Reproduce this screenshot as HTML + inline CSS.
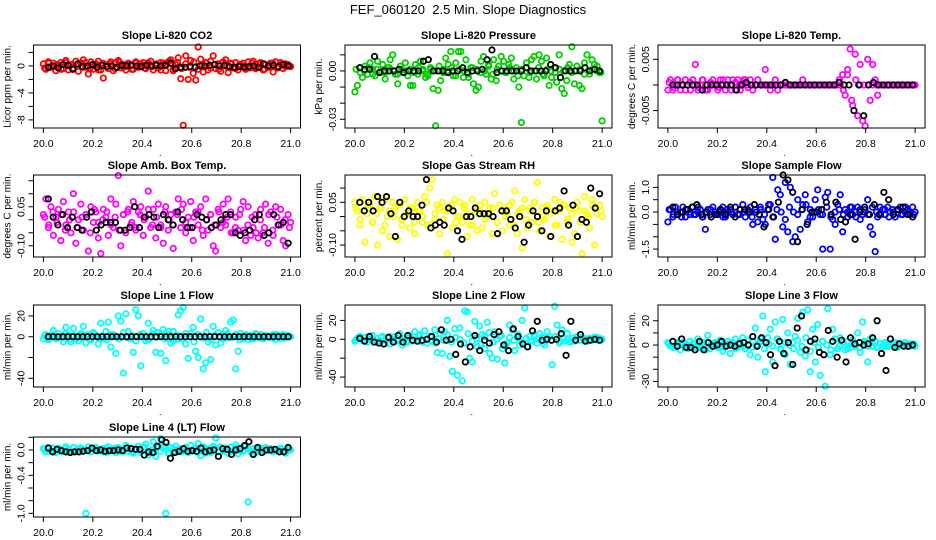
<!DOCTYPE html>
<html><head><meta charset="utf-8"><style>
body{margin:0;background:#fff;}
svg{display:block;font-family:"Liberation Sans",Arial,sans-serif;}
</style></head><body>
<svg id="chart" width="936" height="540" viewBox="0 0 936 540">
<text x="468" y="14" text-anchor="middle" font-size="13" style="white-space:pre">FEF_060120  2.5 Min. Slope Diagnostics</text>
</svg>
<script>
// ---- data (colored = all samples, band = extra dense samples, black = highlighted samples); x = time 20.0..21.0
const co2Col=[0.3,-0.5,0.6,-0.2,0.4,-0.7,0.1,0.5,-0.4,0.8,-0.6,0.2,-0.3,0.7,-0.8,0.4,0.9,-0.2,-1.2,0.6,-0.5,0.3,0.7,-0.6,-1.8,0.2,-0.4,0.6,-0.7,0.5,0.8,-0.3,0.2,-0.6,0.4,0.1,-0.5,0.6,-0.2,0.3,0.5,-0.4,0.2,0.7,-0.6,0.1,-0.3,0.5,0.4,-0.7,0.6,0.9,-0.5,0.2,1.2,-1.9,-8.8,1.5,-2.0,0.8,-1.1,-2.1,2.8,1.0,-0.9,0.5,-0.6,0.7,1.5,-0.4,0.3,-0.8,0.6,0.9,-1.0,0.4,-0.3,0.5,-0.6,0.2,0.4,-0.5,0.6,-0.3,0.7,-0.4,0.3,0.5,-0.6,0.2,-0.2,0.4,-0.9,0.6,-0.3,0.5,-0.4,0.3,0.2,-0.1];
const co2Band=[-0.3,0.4,-0.1,0.2,-0.5,0.5,0.0,-0.4,0.3,-0.2,0.5,-0.3,0.1,-0.6,0.4,-0.1,0.3,-0.4,0.6,-0.2,0.2,-0.5,0.4,0.0,-0.3,0.5,-0.1,0.3,-0.6,0.2,0.7,-0.7,0.5,-0.4,0.3,-0.2,0.6,-0.5,0.1,0.4,-0.3,0.2,-0.5,0.5,-0.1,0.3,-0.4,0.2,0.0,-0.3,0.4,-0.2,0.3,-0.5,0.1,0.4,-0.3,0.2,-0.1,0.0];
const co2Blk=[-0.2,0.0,-0.3,0.2,0.1,-0.5,0.3,-0.1,0.0,0.2,-0.2,0.1,-0.1,0.0,-0.2,0.1,0.0,0.1,0.0,-0.1,0.1,0.0,0.1,0.0,0.1,0.4,-0.4,-0.2,-0.2,-0.1,-0.2,0.0,0.0,0.1,0.2,0.0,0.1,-0.1,-0.2,-0.1,-0.2,-0.1,0.0,-0.2,0.3,0.0,0.1,-0.1,0.2,0.0];
const presCol=[-0.013,-0.009,0.002,-0.004,0.003,-0.002,0.005,0.001,-0.003,0.006,-0.001,0.004,-0.005,0.002,0.007,0.010,-0.002,-0.008,0.003,-0.001,0.005,-0.003,-0.009,-0.009,0.004,-0.002,0.006,0.001,-0.004,-0.003,0.002,-0.011,-0.034,-0.012,-0.006,0.001,0.008,0.004,0.012,-0.003,0.005,0.012,0.012,-0.004,0.007,-0.004,0.002,-0.008,-0.012,-0.010,0.006,0.009,-0.002,0.004,-0.005,0.007,-0.006,0.003,0.009,0.006,-0.001,0.004,0.008,-0.005,0.002,-0.010,-0.032,-0.003,0.005,-0.004,0.007,0.009,-0.005,0.010,0.006,-0.003,0.008,-0.009,-0.004,0.002,-0.007,0.010,-0.011,-0.014,-0.006,0.004,0.015,-0.008,0.003,-0.009,-0.011,0.005,0.010,-0.002,0.007,0.004,0.003,-0.001,-0.031];
const presBand=[0.001,-0.001,0.000,0.002,-0.002,0.001,0.000,-0.001,0.002,0.000,-0.002,0.001,0.000,0.001,-0.001,0.002,0.000,-0.002,0.001,0.000,0.003,-0.001,0.000,0.002,-0.003,0.001,0.000,-0.002,0.002,0.001,-0.001,0.000,0.003,-0.002,0.001,0.000,-0.001,0.002,0.000,-0.003,0.001,0.002,-0.001,0.000,0.002,-0.002,0.001,0.000,-0.001,0.001,0.000,0.002,-0.001,0.000,0.001,-0.002,0.000,0.001,0.000,-0.001];
const presBlk=[0.002,0.001,0.001,0.009,-0.001,0,0,0,0.001,-0.001,0,0,0,0.006,0.007,0,0,0,-0.001,0,0,0.002,-0.001,0,0,0.001,0.007,0.013,-0.001,0,0,0,0,0,0.002,0,0,0,0,0.004,0.002,-0.004,0,0,0,0,0.002,0,0.001,0];
const tempCol=[-0.001,0.001,-0.001,0,0.001,-0.001,0,0.001,0,-0.001,0.001,0.004,-0.001,0,0.001,-0.001,-0.001,0,0.001,0,-0.001,0.001,0,-0.001,0.001,0,0.001,-0.001,0.001,-0.001,0,0.001,0,0.001,-0.001,0,0.001,0,0,0.003,0,-0.001,0,0.001,-0.001,0,0,0,0,0,0,0,0,0,0.001,0,0,0,0,0,0,0,0,0,0,0,0,0,0,0,0.002,-0.002,0.003,0.007,-0.004,0.006,-0.006,0.004,-0.007,-0.008,0.005,-0.003,0.004,0.001,-0.002,0,0,0,0,0,0,0,0,0,0,0,0,0,0,0];
const tempBand=[0.0005,-0.0005,0.001,0,-0.001,0.0005,0,-0.0005,0.001,-0.001,0.0005,0,-0.0005,0.001,0,-0.001,0.0005,0,0.001,-0.0005,0,0,0,0,0,0,0,0,0,0,0,0,0,0,0,0,0,0,0,0,0,0.001,-0.001,0.002,-0.003,0.001,0,0,0,0,0,0,0,0,0,0,0,0,0,0];
const tempBlk=[0,0,0,0,0,0,-0.001,0,0,0,0,0,0,-0.001,0,0.0005,0,0,0,0,0,0,0,0.0005,0,0,0,0,0,0,0,0,0,0,0.0005,0,0,-0.005,0,-0.006,0,0.0005,0,0,0,0,0,0,0,0];
const ambCol=[0.02,0.08,-0.03,0.05,-0.06,0.01,0.04,-0.08,0.07,-0.02,0.03,-0.05,0.10,-0.09,0,0.06,-0.04,0.02,-0.12,0.05,-0.01,0.03,-0.07,-0.13,0.04,0.01,-0.06,0.08,-0.03,0.06,0.17,-0.10,0.02,-0.05,0.04,-0.02,0.07,-0.04,0.03,0.05,-0.06,0.01,0.11,-0.03,0.04,-0.07,0.06,-0.02,-0.09,0.05,-0.04,0.02,-0.11,0.03,0.08,-0.03,0.06,-0.05,0.01,0.07,-0.08,0.03,-0.02,0.05,-0.06,0.08,-0.04,0.02,-0.10,-0.12,0.04,-0.03,0.06,-0.02,0.08,0.03,-0.05,0.01,-0.04,0.04,0.07,-0.08,0.05,-0.06,-0.03,0.02,-0.07,0.04,-0.05,0.06,-0.09,0.03,-0.06,0.05,-0.02,0.04,-0.08,-0.10,0.02,-0.01];
const ambBand=[0.01,-0.02,0.03,-0.01,0.02,-0.04,0.00,0.03,-0.03,0.01,0.02,-0.05,0.04,-0.01,0.00,0.03,-0.02,0.01,-0.04,0.02,0.03,-0.01,-0.03,0.02,0.00,0.04,-0.02,0.01,-0.03,0.03,0.00,-0.02,0.02,0.04,-0.01,-0.03,0.01,0.03,-0.04,0.00,0.02,-0.02,0.03,-0.01,0.01,-0.05,-0.03,0.02,-0.04,-0.02,0.01,-0.05,0.00,-0.03,0.02,-0.04,0.01,-0.02,0.00,-0.03];
const ambBlk=[0.08,0.01,-0.02,0.02,-0.03,0.01,-0.03,-0.04,0.01,0.03,-0.04,-0.02,-0.01,-0.01,-0.01,-0.04,-0.04,-0.03,0.05,-0.03,0.01,0.02,0.01,-0.03,0.02,0,-0.02,0.03,0,-0.03,-0.03,0.02,0.01,0,-0.03,-0.02,0,0.02,0.02,-0.05,-0.06,-0.05,-0.04,0,0.02,-0.06,-0.05,0.02,-0.02,-0.01,-0.09];
const rhCol=[0.05,0.02,-0.03,0.06,-0.09,0.01,0.04,-0.02,0.07,-0.10,0.03,-0.05,0.06,0,-0.07,0.05,0.02,-0.08,0.04,-0.03,0.06,0.01,-0.04,0.03,-0.06,0.05,0.02,-0.02,0.07,-0.03,0.10,0.13,-0.01,0.04,-0.06,0.05,0.02,-0.13,0.03,-0.04,0.06,0,0.05,-0.02,0.04,-0.07,-0.03,0.06,0.01,-0.05,0.02,-0.04,0.05,0,0.03,-0.06,0.08,-0.02,0.04,-0.05,0.03,0.01,-0.03,0.05,0.09,-0.06,0.02,-0.11,0.06,-0.04,0.03,-0.02,0.05,0.12,-0.05,0.03,-0.01,0.04,-0.07,0.02,0.06,-0.03,0.05,-0.08,0.04,-0.02,0.03,-0.09,-0.06,0.05,0.02,-0.13,0.07,0.01,-0.04,0.06,-0.10,0.03,0.04,0];
const rhBand=[0.03,-0.01,0.02,0.04,-0.02,0.01,0.03,-0.03,0.02,0.00,0.04,-0.01,0.01,0.03,-0.02,0.02,0.00,0.05,-0.03,0.01,0.03,-0.01,0.02,0.04,-0.02,0.00,0.03,0.01,-0.03,0.02,0.04,-0.01,0.01,0.03,-0.02,0.02,0.00,0.04,-0.03,0.01,0.03,-0.01,0.02,0.05,-0.02,0.00,0.03,0.01,-0.03,0.02,0.04,-0.01,0.01,0.03,-0.02,0.02,0.00,0.04,0.01,0.02];
const rhBlk=[0.05,0.02,0.05,0.02,0.07,0.05,0.07,0.01,-0.07,0.05,0,0.02,0,0,0.04,0.13,-0.04,-0.03,-0.02,-0.03,0.03,0.02,-0.05,-0.08,0,0,0.03,0.01,0.01,0.01,0,-0.06,0.02,0.02,-0.01,-0.04,0,-0.09,-0.03,0.02,0,-0.05,0.02,-0.07,0.02,0.03,0.09,-0.03,0.04,-0.07,-0.01,-0.02,0.10,0.03,0.08];
const flowCol=[-0.4,0.1,-0.2,0.2,-0.1,0,0.2,-0.2,0.1,-0.1,0.2,-0.1,0,0.1,-0.2,-0.7,0.1,-0.1,0.2,0,-0.1,0.1,0.2,-0.2,0,0.1,-0.1,0.2,-0.1,0.1,0.3,-0.2,0,0.2,-0.5,0.1,-0.4,0.2,-0.3,-0.5,0.1,0.3,1.4,-1.1,0.9,0.7,-0.6,1.2,-0.8,1.0,-1.2,-1.0,0.5,-0.7,0.3,0.7,-0.4,0.1,-0.2,0.5,0.9,-0.1,-1.5,0.6,0.8,-1.5,-0.3,-0.5,0.3,0.7,-0.8,0.1,-0.2,0.2,-0.1,0,0.2,-0.3,-0.1,0.1,0.5,-0.6,-0.9,-1.6,-0.2,0.2,0.1,-0.1,0.2,0,0.1,-0.2,0.1,0.2,-0.1,0,0.1,-0.1,0.2,0];
const flowBand=[0.1,-0.1,0.0,-0.2,0.1,0.0,-0.1,0.2,-0.2,0.0,0.1,-0.1,0.0,-0.2,0.1,0.0,0.2,-0.1,0.0,0.1,-0.2,0.0,0.1,-0.1,0.3,-0.2,0.1,0.0,-0.3,0.2,0.0,-0.1,0.1,0.3,-0.2,0.0,0.1,-0.1,0.2,-0.2,0.0,0.1,-0.1,0.0,0.2,-0.2,0.1,0.0,-0.1,0.2,0.0,-0.1,0.1,-0.2,0.0,0.1,-0.1,0.2,0.0,-0.1];
const flowBlk=[0.2,-0.1,0,0.1,0.2,0.3,-0.1,0,-0.2,-0.1,0.1,-0.1,0.2,-0.2,0.1,0.1,0,0.3,-0.1,-0.6,0.1,-0.2,0.4,1.5,1.3,0.8,-1.2,0.1,-0.5,0,0,0.1,0.4,-0.1,0.4,-0.3,-0.4,-0.1,-1.1,0,0.2,-0.1,0.3,-0.1,0.8,0.5,-0.1,0.1,0.2,-0.1,-0.2];
const l1Col=[-2,2,-3,1,6,-2,3,-1,-5,9,2,-5,8,-2,-4,3,10,-6,2,-3,4,1,-7,13,-2,5,14,-10,2,-16,20,15,-35,22,5,-2,-15,26,20,-28,3,-4,13,-1,6,-15,4,-16,7,-23,2,-6,5,-3,21,25,28,-7,-21,3,9,-14,-20,17,-31,-25,-5,-22,10,-8,4,-6,2,6,-1,14,16,-31,-14,3,-2,2,-3,1,-2,3,-1,2,-2,1,0,-1,2,-3,1,0,2,-1,1,0];
const l1Band=[1,-2,2,-1,0,3,-3,1,-1,2,0,-2,3,-1,1,-3,2,0,-2,4,-1,1,-4,2,0,-3,3,-1,2,-2,5,-4,1,-2,3,0,-5,2,-1,4,-3,1,0,-2,3,-1,2,-3,1,0,-2,2,-1,1,0,-1,2,-2,1,0];
const l1Blk=[0,0,0,0,0,0,0,0,0,0,0,0,0,0,0,0,0,0,0,0,0,0,0,0,0,0,0,0,0,0,0,0,0,0,0,0,0,0,0,0,0,0,0,0,0,0,0,0,0,0];
const l2Col=[-2,1,3,-1,2,-3,0,4,-2,1,-4,3,-1,2,-5,0,3,-2,6,-6,1,-3,4,-2,8,-1,5,-3,9,-4,3,-2,10,-14,6,-15,8,20,-18,-34,11,-38,12,-44,30,29,-20,-24,19,-8,14,5,-10,18,-15,-20,8,-21,3,-10,-25,-4,15,10,-12,2,-6,20,33,-8,3,-2,5,-4,6,2,-6,8,3,-27,35,15,-4,10,-2,6,-3,1,-2,3,-1,2,0,-2,1,0,2,-1,1,0];
const l2Band=[-1,2,-2,1,0,-3,2,-1,3,-2,0,1,-3,2,-1,4,-2,0,3,-4,1,-1,5,-3,2,0,-4,6,-2,1,-5,3,7,-3,0,4,-6,2,-1,5,-3,1,-2,3,0,-4,2,-1,3,-2,1,0,-2,2,-1,1,0,-1,2,0];
const l2Blk=[1,-2,3,-3,-4,-5,2,-3,4,-3,4,-1,-2,-1,0,3,-3,10,-1,0,-16,-5,-24,-8,4,-12,-1,-4,5,8,-6,-12,11,3,-5,-8,9,19,-1,0,-1,0,6,-17,19,-1,5,-2,-1,0,-1];
const l3Col=[2,-1,3,-2,1,-4,2,0,-3,3,1,-2,5,-1,2,-4,8,-3,1,2,-2,4,-5,1,3,-7,2,5,-2,1,6,-3,4,-8,3,14,-10,5,24,-22,6,13,-14,19,5,-3,21,-8,10,-16,2,7,22,-6,27,-9,29,-22,13,-14,17,-25,3,-34,30,-8,13,5,-3,6,2,-4,3,-2,4,-1,10,-6,19,2,-14,5,-1,3,-2,1,-1,2,-1,1,0,2,-1,1,0,2,-1,1,0,-1];
const l3Band=[1,-2,2,0,-1,3,-2,1,-3,2,0,-1,3,-2,1,0,-3,2,-1,4,-2,0,3,-3,1,-1,5,-4,2,0,-3,4,-1,6,-5,2,-2,3,0,-4,5,-1,2,-3,1,0,-2,3,-1,2,-2,1,0,-1,2,-2,1,0,-1,1];
const l3Blk=[3,-1,5,-2,-2,-4,3,-4,2,-1,0,3,-1,0,-1,1,2,0,7,-1,6,2,-8,-17,3,-7,2,-16,14,24,-4,3,5,-6,-8,12,3,-10,4,-14,6,1,2,0,1,6,20,-7,-21,5,-2,1,-1,-1,0];
const l4Col=[0.02,-0.03,0.04,-0.01,0.02,-0.04,0.03,0,-0.02,0.05,0.01,-0.03,0.04,-0.02,0.02,0.03,-0.01,-1.0,0.05,-0.03,0.02,0.04,-0.02,0.01,-0.03,0.03,0.05,-0.01,0.02,-0.04,0.04,0.01,-0.03,0.07,-0.02,0.03,-0.05,0.02,0.06,-0.04,0.03,0.09,-0.08,-0.02,0.13,-0.10,0.05,0.18,0.03,-1.0,-0.05,0.04,-0.02,0.06,-0.03,0.02,-0.01,0.04,-0.04,0.07,-0.02,0.03,0.10,-0.09,0.05,-0.05,0.02,-0.04,0.06,0.19,-0.03,0.05,-0.02,0.03,-0.05,0.04,-0.01,0.08,-0.06,0.03,-0.02,0.05,-0.82,-0.03,0.02,-0.04,0.03,0.01,-0.02,0.04,-0.01,0.02,-0.03,0.01,0,0.03,-0.02,-0.05,0.01,0];
const l4Band=[0.01,-0.02,0.03,0,-0.03,0.02,-0.01,0.04,-0.02,0.01,0,-0.03,0.03,-0.01,0.02,-0.04,0.01,0.03,-0.02,0,0.04,-0.03,0.02,-0.01,0.05,-0.04,0.01,0.03,-0.02,0.06,-0.05,0.02,0,-0.03,0.04,-0.01,0.02,-0.04,0.03,0,-0.02,0.04,-0.03,0.01,0.02,-0.02,0.03,-0.01,0,0.02,-0.03,0.01,0.03,-0.02,0.01,0,-0.01,0.02,-0.02,0.01];
const l4Blk=[0.03,-0.03,0.01,-0.01,-0.03,-0.04,-0.03,-0.03,-0.02,-0.01,0.03,-0.01,0,-0.02,-0.01,-0.01,0,-0.01,0.03,0.02,0.01,0.01,-0.08,-0.03,-0.04,0.06,0.16,0.12,-0.13,-0.04,-0.02,0.02,-0.02,-0.01,-0.02,0.03,-0.03,-0.01,0,-0.10,0.02,0.01,-0.07,0,0.02,0.07,0.13,-0.07,0.04,-0.04,0,0,0.01,-0.03,-0.03,0.04];
const xTicks=[20.0,20.2,20.4,20.6,20.8,21.0];
const xTickLabels=["20.0","20.2","20.4","20.6","20.8","21.0"];

const panels=[
 {name:"co2",title:"Slope Li-820 CO2",ylab:"Licor ppm per min.",col:0,row:0,color:"#ff0000",cd:co2Col,band:co2Band,bd:co2Blk,ylim:[-9.2,3.1],ticks:[-8,-6,-4,-2,0,2],labels:{"-8":"-8","-4":"-4","0":"0"}},
 {name:"pressure",title:"Slope Li-820 Pressure",ylab:"kPa per min.",col:1,row:0,color:"#00cc00",cd:presCol,band:presBand,bd:presBlk,ylim:[-0.0354,0.0161],ticks:[-0.03,-0.02,-0.01,0,0.01],labels:{"-0.03":"-0.03","0":"0.00"}},
 {name:"li820-temp",title:"Slope Li-820 Temp.",ylab:"degrees C per min.",col:2,row:0,color:"#ff00ff",cd:tempCol,band:tempBand,bd:tempBlk,ylim:[-0.0084,0.0078],ticks:[-0.005,0,0.005],labels:{"-0.005":"-0.005","0.005":"0.005"}},
 {name:"amb-box-temp",title:"Slope Amb. Box Temp.",ylab:"degrees C per min.",col:0,row:1,color:"#ff00ff",cd:ambCol,band:ambBand,bd:ambBlk,ylim:[-0.143,0.172],ticks:[-0.1,-0.05,0,0.05,0.1,0.15],labels:{"-0.1":"-0.10","0.05":"0.05"}},
 {name:"gas-stream-rh",title:"Slope Gas Stream RH",ylab:"percent per min.",col:1,row:1,color:"#ffff00",cd:rhCol,band:rhBand,bd:rhBlk,ylim:[-0.142,0.146],ticks:[-0.1,-0.05,0,0.05,0.1],labels:{"-0.1":"-0.10","0.05":"0.05"}},
 {name:"sample-flow",title:"Slope Sample Flow",ylab:"ml/min per min.",col:2,row:1,color:"#0000ff",cd:flowCol,band:flowBand,bd:flowBlk,ylim:[-1.82,1.5],ticks:[-1.5,-1,-0.5,0,0.5,1],labels:{"-1.5":"-1.5","0":"0.0","1":"1.0"}},
 {name:"line1-flow",title:"Slope Line 1 Flow",ylab:"ml/min per min.",col:0,row:2,color:"#00ffff",cd:l1Col,band:l1Band,bd:l1Blk,ylim:[-48.4,30.5],ticks:[-40,-20,0,20],labels:{"-40":"-40","0":"0","20":"20"}},
 {name:"line2-flow",title:"Slope Line 2 Flow",ylab:"ml/min per min.",col:1,row:2,color:"#00ffff",cd:l2Col,band:l2Band,bd:l2Blk,ylim:[-50.5,36.3],ticks:[-40,-20,0,20],labels:{"-40":"-40","0":"0","20":"20"}},
 {name:"line3-flow",title:"Slope Line 3 Flow",ylab:"ml/min per min.",col:2,row:2,color:"#00ffff",cd:l3Col,band:l3Band,bd:l3Blk,ylim:[-34.6,33],ticks:[-30,-20,-10,0,10,20],labels:{"-30":"-30","0":"0","20":"20"}},
 {name:"line4-flow",title:"Slope Line 4 (LT) Flow",ylab:"ml/min per min.",col:0,row:3,color:"#00ffff",cd:l4Col,band:l4Band,bd:l4Blk,ylim:[-1.058,0.205],ticks:[-1,-0.8,-0.6,-0.4,-0.2,0,0.2],labels:{"-1":"-1.0","-0.4":"-0.4","0":"0.0"}}
];
const colLeft=[33.5,345,658], W=267;
const rows=[[45,128],[175,257],[305,387],[437,517]];
const NS="http://www.w3.org/2000/svg";
const svg=document.getElementById('chart');
function mk(tag,attrs,parent){const e=document.createElementNS(NS,tag);for(const k in attrs)e.setAttribute(k,attrs[k]);(parent||svg).appendChild(e);return e;}

panels.forEach(p=>{
  const L=colLeft[p.col], T=rows[p.row][0], B=rows[p.row][1];
  const xs=x=>L+(x-19.96)/1.08*W;
  const ys=y=>B-(y-p.ylim[0])/(p.ylim[1]-p.ylim[0])*(B-T);
  const g=mk('g',{});
  
  
  const t=mk('text',{x:L+W/2,y:T-6,'text-anchor':'middle','font-size':'11','font-weight':'bold'},g);
  t.textContent=p.title;
  
  
  const yl=mk('text',{transform:`translate(${L-23},${(T+B)/2}) rotate(-90)`,'text-anchor':'middle','font-size':'10'},g);
  yl.textContent=p.ylab;
  
  
  const pts=mk('g',{fill:'none','stroke-width':'1.8'},g);
  
  
  p.cd.forEach((v,i)=>{
    const x=20+i/(p.cd.length-1);
    const c=mk('circle',{cx:xs(x),cy:ys(v),r:2.7,stroke:p.color},pts);
    
    
  });
  p.band.forEach((v,i)=>{
    const x=20.005+i*0.99/(p.band.length-1);
    const c=mk('circle',{cx:xs(x),cy:ys(v),r:2.7,stroke:p.color},pts);
    
    
  });
  p.bd.forEach((v,i)=>{
    const x=20.02+i*0.97/(p.bd.length-1);
    const c=mk('circle',{cx:xs(x),cy:ys(v),r:2.7,stroke:'#000'},pts);
    
    
  });
  const box=mk('rect',{x:L,y:T,width:W,height:B-T,fill:'none',stroke:'#000','stroke-width':'1'},g);
  
  
  const xa=mk('g',{},g);
  
  
  mk('line',{x1:xs(20),x2:xs(21),y1:B,y2:B,stroke:'#000'},xa);
  xTicks.forEach((v,i)=>{
    mk('line',{x1:xs(v),x2:xs(v),y1:B,y2:B+5,stroke:'#000'},xa);
    const tl=mk('text',{x:xs(v),y:B+19,'text-anchor':'middle','font-size':'10.5'},xa);
    tl.textContent=xTickLabels[i];
    
    
  });
  const dot=mk('text',{x:L+W/2-8,y:B+28,'font-size':'9'},xa);dot.textContent='.';
  const ya=mk('g',{},g);
  
  
  mk('line',{x1:L,x2:L,y1:ys(p.ticks[0]),y2:ys(p.ticks[p.ticks.length-1]),stroke:'#000'},ya);
  p.ticks.forEach(v=>{
    mk('line',{x1:L-5,x2:L,y1:ys(v),y2:ys(v),stroke:'#000'},ya);
    const lab=p.labels[String(v)];
    if(lab){
      const tl=mk('text',{transform:`translate(${L-9},${ys(v)}) rotate(-90)`,'text-anchor':'middle','font-size':'10.5'},ya);
      tl.textContent=lab;
      
      
    }
  });
});
</script>
</body></html>
